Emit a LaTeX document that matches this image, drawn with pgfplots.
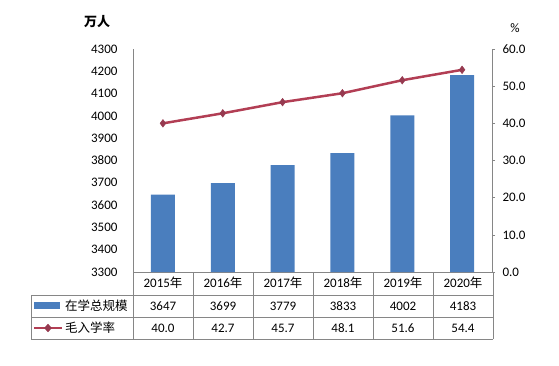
\documentclass[border=0pt]{standalone}
\usepackage{fontspec}
\setmainfont{Carlito}
\newfontfamily\cjk{Noto Sans CJK SC}
\usepackage{pgfplots}
\usetikzlibrary{shapes.geometric}
\pgfplotsset{compat=1.18}
\definecolor{barblue}{RGB}{74,126,190}
\definecolor{linered}{RGB}{178,62,84}
\definecolor{markred}{RGB}{150,58,80}
\definecolor{axgray}{RGB}{134,134,134}
\begin{document}
\begin{tikzpicture}[x=1pt,y=1pt]
\path[use as bounding box] (0,0) rectangle (559,365);
\pgfplotsset{every axis/.append style={
  scale only axis, width=359pt, height=223pt, at={(133pt,93pt)}, anchor=south west,
  xmin=-0.5, xmax=5.5, clip=false,
  /pgf/number format/assume math mode=true,
  tick label style={font=\fontsize{13}{15}\selectfont},
  axis line style={draw=axgray}, every tick/.style={draw=axgray},
}}
\begin{axis}[
  ymin=3300, ymax=4300, ytick distance=100,
  axis y line*=left, axis x line*=bottom,
  xtick=\empty, major tick length=0pt,
  yticklabel style={xshift=-12pt, /pgf/number format/1000 sep={}},
]
\addplot[ybar, bar width=24pt, fill=barblue, draw=none] coordinates {
 (0,3647) (1,3699) (2,3779) (3,3833) (4,4002) (5,4183)};
\end{axis}
\begin{axis}[
  ymin=0, ymax=60, ytick distance=10,
  axis y line*=right, axis x line=none,
  tick align=outside, major tick length=3pt,
  yticklabel style={xshift=4pt, /pgf/number format/.cd, fixed, fixed zerofill, precision=1},
]
\addplot[linered, line width=2.5pt, mark=diamond*, mark size=3.8pt,
  mark options={fill=markred, draw=markred, line width=0.5pt}] coordinates {
 (0,40.0) (1,42.7) (2,45.7) (3,48.1) (4,51.6) (5,54.4)};
\end{axis}
% axis titles
\node[font=\cjk\bfseries\fontsize{13}{15}\selectfont] at (97,343) {万人};
\node[font=\fontsize{13}{15}\selectfont] at (515,337) {\%};
% data table
\begin{scope}[draw=axgray, line width=0.8pt]
\foreach \x in {133,193,...,493} {\draw (\x,93) -- (\x,26);}
\draw (31,70) -- (31,26);
\draw (31,70) -- (493,70);
\draw (31,48) -- (493,48);
\draw (31,26) -- (493,26);
\end{scope}
\foreach \yr [count=\i from 0] in {2015,2016,2017,2018,2019,2020} {
  \node[font=\fontsize{13}{15}\selectfont, inner sep=0pt] at (163+60*\i,82) {\yr{\cjk\fontsize{12.5}{15}\selectfont 年}};
}
\foreach \v [count=\i from 0] in {3647,3699,3779,3833,4002,4183} {
  \node[font=\fontsize{13}{15}\selectfont, inner sep=0pt] at (163+60*\i,59) {\v};
}
\foreach \v [count=\i from 0] in {40.0,42.7,45.7,48.1,51.6,54.4} {
  \node[font=\fontsize{13}{15}\selectfont, inner sep=0pt] at (163+60*\i,37) {\v};
}
% legend keys
\fill[barblue] (34,56) rectangle (60,63);
\node[font=\cjk\fontsize{12.5}{14}\selectfont, anchor=west, inner sep=0pt] at (65,59) {在学总规模};
\draw[linered, line width=2.5pt] (34,37) -- (62,37);
\node[fill=markred, draw=markred, diamond, inner sep=0pt, minimum width=7pt, minimum height=8pt] at (48,37) {};
\node[font=\cjk\fontsize{12.5}{14}\selectfont, anchor=west, inner sep=0pt] at (65,37) {毛入学率};
\end{tikzpicture}
\end{document}
